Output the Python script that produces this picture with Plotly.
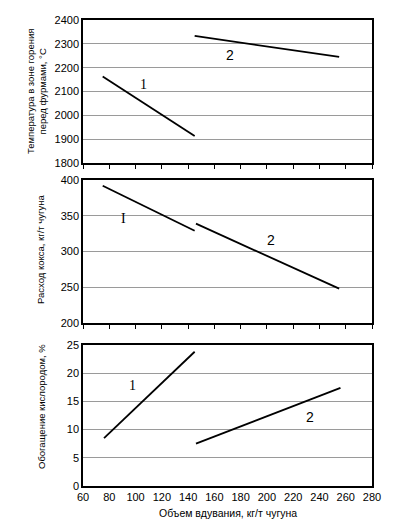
import plotly.graph_objects as go

# ---- data ----
x_ticks = [60, 80, 100, 120, 140, 160, 180, 200, 220, 240, 260, 280]

temp1_x = [75, 145]
temp1_y = [2163, 1913]
temp2_x = [145, 255]
temp2_y = [2333, 2245]

coke1_x = [75, 145]
coke1_y = [392, 329]
coke2_x = [146, 255]
coke2_y = [339, 248]

oxy1_x = [76, 145]
oxy1_y = [8.5, 23.8]
oxy2_x = [146, 256]
oxy2_y = [7.5, 17.4]

labels_temp = [(106, 2128, "1", "serif"), (172, 2255, "2", "sans")]
labels_coke = [(91, 346, "I", "serif"), (203, 316, "2", "sans")]
labels_oxy = [(98, 17.9, "1", "serif"), (233, 12.3, "2", "sans")]

y_titles = ["Температура в зоне горения<br>перед фурмами, °С",
            "Расход кокса, кг/т чугуна",
            "Обогащение кислородом, %"]
x_title = "Объем вдувания, кг/т чугуна"

SANS = "Liberation Sans, Arial, sans-serif"
SERIF = "Liberation Serif, Times New Roman, serif"

fig = go.Figure()
line = dict(color="black", width=1.8)
series = [
    (temp1_x, temp1_y, "x", "y"), (temp2_x, temp2_y, "x", "y"),
    (coke1_x, coke1_y, "x2", "y2"), (coke2_x, coke2_y, "x2", "y2"),
    (oxy1_x, oxy1_y, "x3", "y3"), (oxy2_x, oxy2_y, "x3", "y3"),
]
for xs, ys, xa, ya in series:
    fig.add_trace(go.Scatter(x=xs, y=ys, mode="lines", line=line,
                             xaxis=xa, yaxis=ya, showlegend=False,
                             hoverinfo="skip"))

H = 466.0  # plot-area height in px (page y 20..486)
W = 289.0  # plot-area width in px (page x 83..372)
def dom(top_px, bot_px):
    return [(486 - bot_px) / H, (486 - top_px) / H]

y_doms = [dom(20, 163), dom(180, 323), dom(345, 486)]
y_ranges = [[1800, 2400], [200, 400], [0, 25]]
y_dticks = [100, 50, 5]

grid = "#9a9a9a"
for i in range(3):
    s = "" if i == 0 else str(i + 1)
    last = i == 2
    fig.layout["xaxis" + s] = dict(
        range=[60, 280], tickvals=x_ticks, showticklabels=last,
        ticks="" if last else "outside", ticklen=4, tickcolor="black",
        showgrid=False, zeroline=False, showline=True, linecolor="black",
        linewidth=1.5, mirror=True, anchor="y" + s, automargin=False,
        tickfont=dict(family=SANS, size=11, color="black"),
        domain=[0, 1],
    )
    fig.layout["yaxis" + s] = dict(
        range=y_ranges[i], dtick=y_dticks[i], domain=y_doms[i],
        showgrid=True, gridcolor=grid, gridwidth=1, zeroline=False,
        showline=True, linecolor="black", linewidth=1.5, mirror=True,
        ticks="", anchor="x" + s, automargin=False,
        tickfont=dict(family=SANS, size=11, color="black"),
    )

annotations = []
for xa, ya, labs in [("x", "y", labels_temp), ("x2", "y2", labels_coke),
                     ("x3", "y3", labels_oxy)]:
    for lx, ly, t, f in labs:
        annotations.append(dict(
            x=lx, y=ly, xref=xa, yref=ya, text=t, showarrow=False,
            font=dict(family=SERIF if f == "serif" else SANS, size=14,
                      color="black")))

title_pos = [(36, 92), (40, 250), (41, 407)]
for (px, py), t in zip(title_pos, y_titles):
    annotations.append(dict(
        x=(px - 83) / W, y=(486 - py) / H, xref="paper", yref="paper",
        text=t, showarrow=False, textangle=-90,
        font=dict(family=SANS, size=9.5, color="black"),
        xanchor="center", yanchor="middle"))

annotations.append(dict(
    x=0.5, y=(486 - 513) / H, xref="paper", yref="paper", text=x_title,
    showarrow=False, font=dict(family=SANS, size=10.5, color="black"),
    xanchor="center", yanchor="middle"))

# page body has an 8px margin; size the figure so it fits the 399x529 window
fig.update_layout(
    width=383, height=513,
    margin=dict(l=75, r=19, t=12, b=35),
    paper_bgcolor="white", plot_bgcolor="white",
    annotations=annotations,
)

fig.write_html("out.html")
